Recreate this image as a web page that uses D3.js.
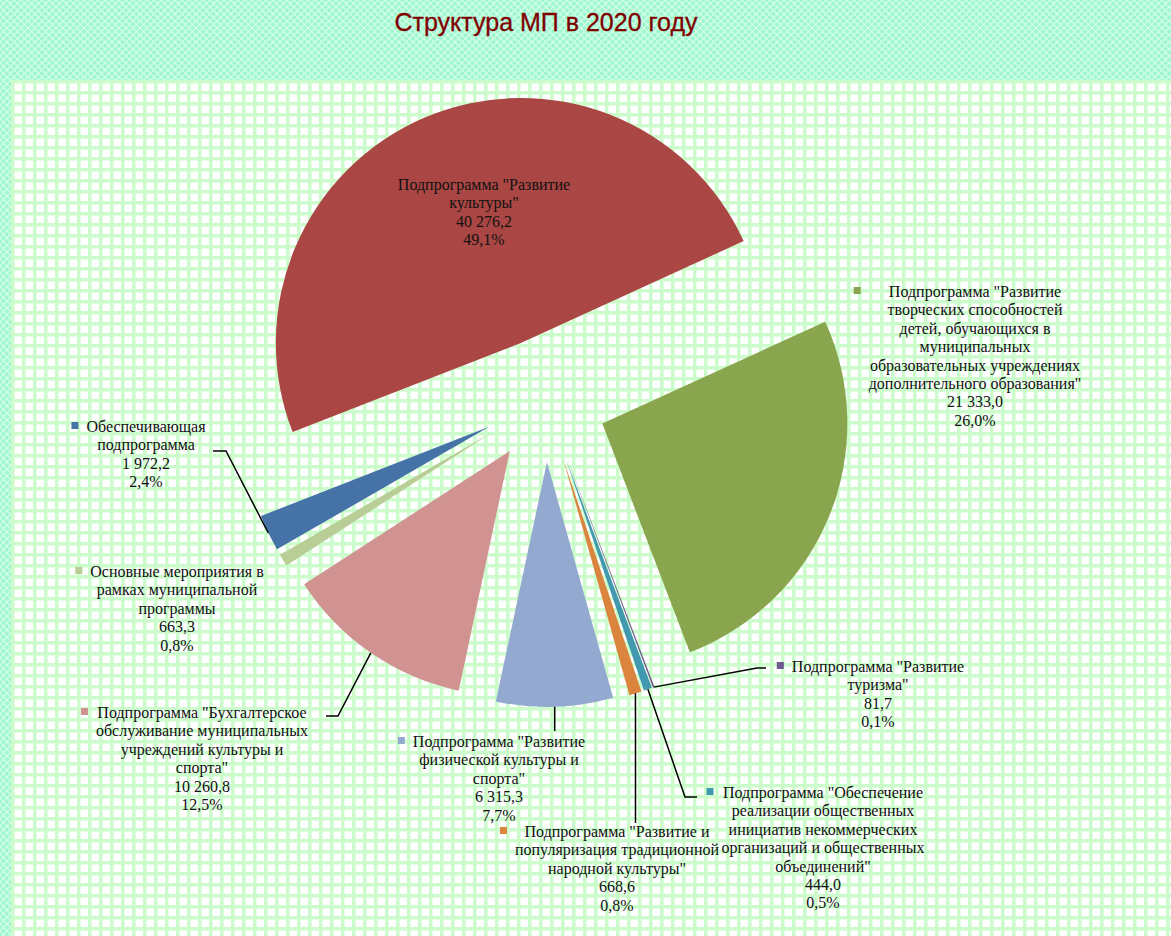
<!DOCTYPE html>
<html>
<head>
<meta charset="utf-8">
<script src="https://cdn.jsdelivr.net/npm/d3@7"></script>
<style>
  body { margin: 0; background: #fff; }
  svg { display: block; }
</style>
</head>
<body>
<div id="container"></div>
<script>
// chart data, in Excel series order (first slice at 240 degrees)
var names = [
	"Обеспечивающая\nподпрограмма",
	"Подпрограмма \"Развитие\nкультуры\"",
	"Подпрограмма \"Развитие\nтворческих способностей\nдетей, обучающихся в\nмуниципальных\nобразовательных учреждениях\nдополнительного образования\"",
	"Подпрограмма \"Развитие\nтуризма\"",
	"Подпрограмма \"Обеспечение\nреализации общественных\nинициатив некоммерческих\nорганизаций и общественных\nобъединений\"",
	"Подпрограмма \"Развитие и\nпопуляризация традиционной\nнародной культуры\"",
	"Подпрограмма \"Развитие\nфизической культуры и\nспорта\"",
	"Подпрограмма \"Бухгалтерское\nобслуживание муниципальных\nучреждений культуры и\nспорта\"",
	"Основные мероприятия в\nрамках муниципальной\nпрограммы"
];
var values = [1972.2, 40276.2, 21333.0, 81.7, 444.0, 668.6, 6315.3, 10260.8, 663.3];
var colors = ["#4572A7", "#AA4643", "#89A54E", "#71588F", "#4198AF",
	"#DB843D", "#93A9CF", "#D19392", "#B9CD96"];

var title = "Структура МП в 2020 году";

// label placement: centre x, first baseline, legend key?, leader end points
var labelLayout = [
	{ x: 146, y: 432, key: true, leader: [[226, 451], [213, 451]] },
	{ x: 484, y: 190, key: false, leader: null },
	{ x: 975, y: 297, key: true, leader: null },
	{ x: 878, y: 672, key: true, leader: [[757, 668], [766, 668]] },
	{ x: 823, y: 798, key: true, leader: [[685, 797], [697, 797]] },
	{ x: 617, y: 837, key: true, leader: [[635.5, 823]] },
	{ x: 499, y: 747, key: true, leader: [[554.7, 731]] },
	{ x: 202, y: 718, key: true, leader: [[338, 716], [326, 716]] },
	{ x: 177, y: 577, key: true, leader: null }
];

var width = 1171, height = 936;
var cx = 545, cy = 400, radius = 245, explode = 62;
var lineH = 18.4;

var ru = d3.formatLocale({ decimal: ",", thousands: "\u00a0", grouping: [3], currency: ["", ""] });
var fmtValue = ru.format(",.1f");
var fmtPct = ru.format(".1%");
var total = d3.sum(values);

var svg = d3.select("#container")
	.append("svg")
	.attr("width", width)
	.attr("height", height);

// background patterns
var defs = svg.append("defs");

var mint = defs.append("pattern")
	.attr("id", "mint")
	.attr("patternUnits", "userSpaceOnUse")
	.attr("width", 7).attr("height", 7);
mint.append("rect").attr("width", 7).attr("height", 7).attr("fill", "#9ef8cd");
mint.append("path")
	.attr("d", "M0,0L7,7M7,0L0,7")
	.attr("stroke", "#ffffff")
	.attr("stroke-opacity", 0.6)
	.attr("stroke-width", 1.2);

var grid = defs.append("pattern")
	.attr("id", "grid")
	.attr("patternUnits", "userSpaceOnUse")
	.attr("x", 11).attr("y", 80)
	.attr("width", 11).attr("height", 11);
grid.append("rect").attr("width", 11).attr("height", 11).attr("fill", "#ffffff");
grid.append("path")
	.attr("d", "M0,0H11M0,0V11")
	.attr("stroke", "#ccfccc")
	.attr("stroke-width", 7);

svg.append("rect")
	.attr("width", width).attr("height", height)
	.attr("fill", "url(#mint)");

svg.append("rect")
	.attr("x", 11).attr("y", 80)
	.attr("width", width - 11).attr("height", height - 80)
	.attr("fill", "url(#grid)");

// title
svg.append("text")
	.attr("x", 546)
	.attr("y", 31)
	.attr("text-anchor", "middle")
	.style("font-family", "'Liberation Sans', Arial, sans-serif")
	.style("font-size", "25px")
	.attr("fill", "#800000")
	.attr("stroke", "#800000")
	.attr("stroke-width", 0.3)
	.text(title);

// pie
var pie = d3.pie()
	.sort(null)
	.value(function(d) { return d; })
	.startAngle(240 * Math.PI / 180)
	.endAngle(600 * Math.PI / 180);

var arc = d3.arc().innerRadius(0).outerRadius(radius);

var arcs = pie(values);

function offset(d, r) {
	var a = (d.startAngle + d.endAngle) / 2;
	return [Math.sin(a) * r, -Math.cos(a) * r];
}

var chart = svg.append("g")
	.attr("transform", "translate(" + cx + "," + cy + ")");

chart.selectAll("path.slice")
	.data(arcs)
	.enter()
	.append("path")
		.attr("class", "slice")
		.attr("d", arc)
		.attr("fill", function(d, i) { return colors[i]; })
		.attr("transform", function(d) {
			var o = offset(d, explode);
			return "translate(" + o[0] + "," + o[1] + ")";
		});

// leader lines
arcs.forEach(function(d, i) {
	var lay = labelLayout[i];
	if (!lay.leader) return;
	var e = offset(d, explode), m = offset(d, radius);
	var pts = [[cx + e[0] + m[0], cy + e[1] + m[1]]].concat(lay.leader);
	svg.append("path")
		.attr("d", d3.line()(pts))
		.attr("fill", "none")
		.attr("stroke", "#000")
		.attr("stroke-width", 1.5);
});

// labels
var labels = svg.selectAll("g.label")
	.data(arcs)
	.enter()
	.append("g")
		.attr("class", "label");

labels.each(function(d, i) {
	var g = d3.select(this);
	var lay = labelLayout[i];
	var lines = names[i].split("\n").concat([fmtValue(values[i]), fmtPct(values[i] / total)]);
	var text = g.append("text")
		.attr("text-anchor", "middle")
		.style("font-family", "'Liberation Serif', 'Times New Roman', serif")
		.style("font-size", "16px")
		.attr("fill", "#111");
	lines.forEach(function(l, j) {
		text.append("tspan")
			.attr("x", lay.x)
			.attr("y", lay.y + j * lineH)
			.text(l);
	});
	if (lay.key) {
		var maxW = d3.max(text.selectAll("tspan").nodes(), function(n) { return n.getComputedTextLength(); });
		g.append("rect")
			.attr("x", lay.x - maxW / 2 - 15)
			.attr("y", lay.y - 10)
			.attr("width", 7)
			.attr("height", 7)
			.attr("fill", colors[i]);
	}
});
</script>
</body>
</html>
